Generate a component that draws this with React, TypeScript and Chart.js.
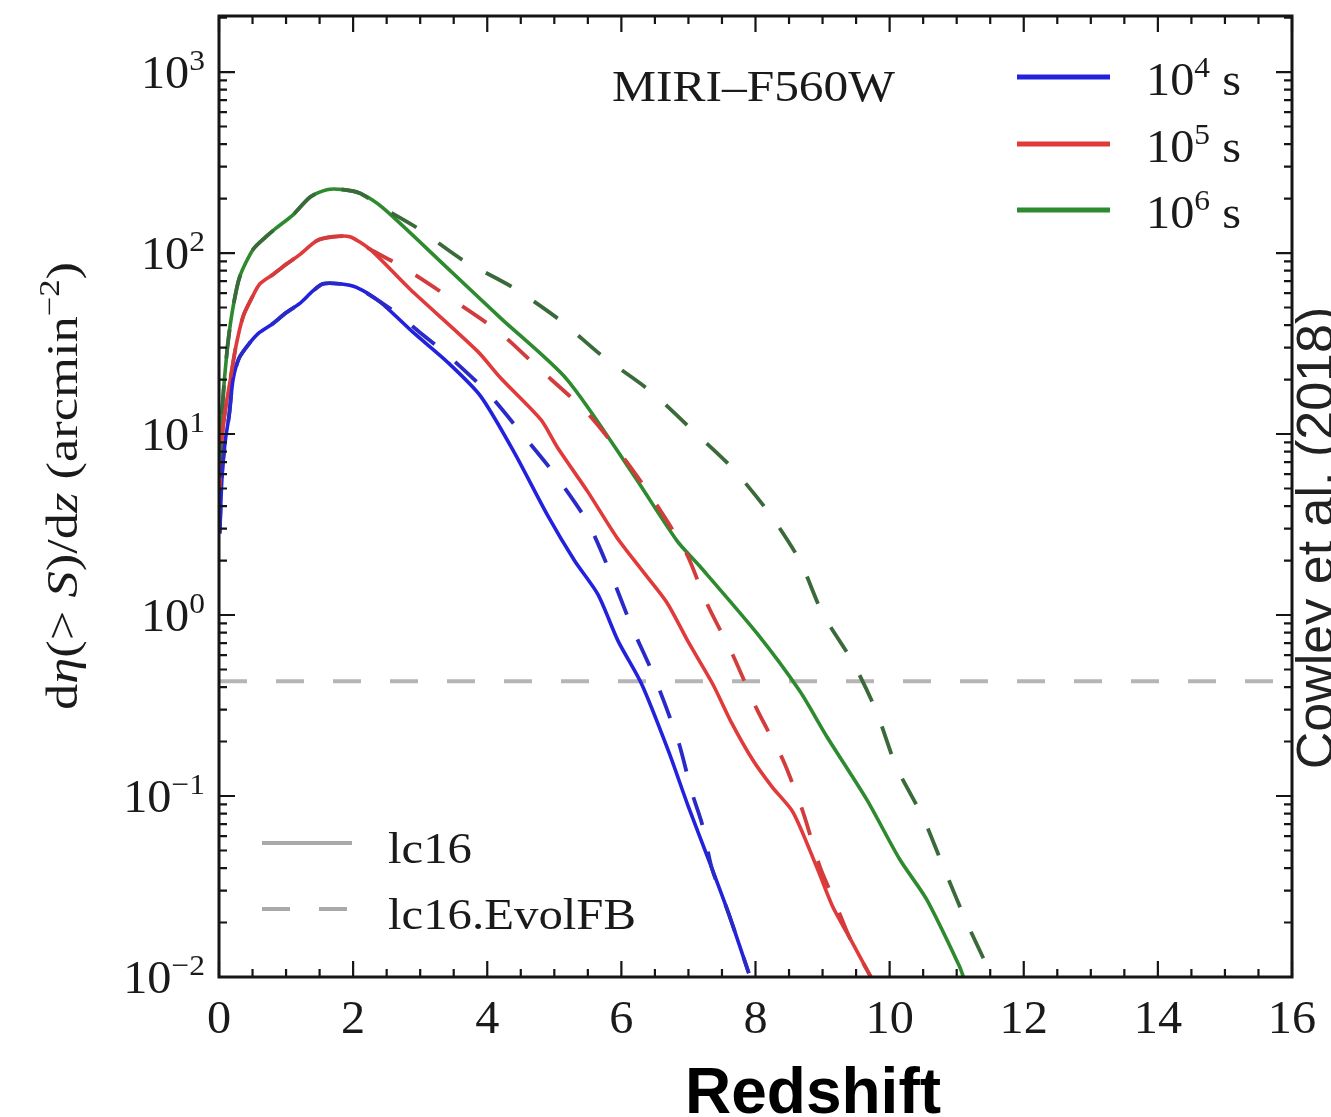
import React, { useEffect, useRef } from 'react';
import { Chart, registerables } from 'chart.js';

Chart.register(...registerables);

const W = 1331;
const H = 1117;
const SERIF = '"Liberation Serif", "DejaVu Serif", serif';
const SANS = '"Liberation Sans", Arial, sans-serif';

// ---- data (redshift z, dη(>S)/dz in arcmin^-2) ----
const zBlueSolid = [0.01, 0.05, 0.1, 0.15, 0.21, 0.3, 0.45, 0.6, 0.8, 1.0, 1.2, 1.4, 1.55, 1.8, 2.05, 2.4, 2.9, 3.4, 3.9, 4.4, 4.9, 5.3, 5.65, 5.95, 6.3, 6.7, 7.0, 7.35, 7.6, 7.9];
const vBlueSolid = [2.82, 6.31, 9.55, 12.6, 20.0, 26.3, 31.6, 36.3, 40.7, 46.8, 52.5, 61.7, 67.6, 67.6, 64.6, 53.7, 36.3, 25.1, 16.2, 7.94, 3.55, 2.0, 1.3, 0.72, 0.417, 0.178, 0.0871, 0.0398, 0.0224, 0.0105];

const zBlueDashed = [0.01, 0.05, 0.1, 0.15, 0.21, 0.3, 0.45, 0.6, 0.8, 1.0, 1.2, 1.4, 1.55, 1.8, 2.05, 2.6, 3.0, 3.4, 4.0, 4.5, 5.0, 5.5, 5.85, 6.15, 6.5, 6.85, 7.05, 7.2, 7.35, 7.6, 7.9];
const vBlueDashed = [2.82, 6.31, 9.55, 12.6, 20.0, 26.3, 31.6, 36.3, 40.7, 46.8, 52.5, 61.7, 67.6, 67.6, 64.6, 47.9, 36.3, 27.5, 17.0, 10.2, 6.03, 3.24, 1.66, 0.871, 0.447, 0.2, 0.105, 0.0708, 0.0398, 0.0224, 0.0105];

const zRedSolid = [0.01, 0.05, 0.1, 0.16, 0.25, 0.36, 0.5, 0.61, 0.8, 1.01, 1.2, 1.46, 1.7, 1.95, 2.25, 2.85, 3.85, 4.2, 4.8, 5.04, 5.5, 5.93, 6.3, 6.68, 7.0, 7.36, 7.65, 7.96, 8.25, 8.56, 8.91, 9.15, 9.4, 9.72];
const vRedSolid = [5.01, 10, 14.1, 19.1, 30.2, 44.7, 57.5, 67.6, 75.9, 87.1, 97.7, 117, 123, 123, 105, 63.1, 28.8, 20.4, 12.0, 8.51, 4.79, 2.69, 1.78, 1.17, 0.708, 0.417, 0.251, 0.158, 0.112, 0.0813, 0.0407, 0.0245, 0.0166, 0.01];

const zRedDashed = [0.01, 0.05, 0.1, 0.16, 0.25, 0.36, 0.5, 0.61, 0.8, 1.01, 1.2, 1.46, 1.7, 1.95, 2.25, 2.75, 3.49, 4.19, 4.75, 5.48, 6.03, 6.47, 6.97, 7.27, 7.66, 8.02, 8.41, 8.71, 8.96, 9.2, 9.4, 9.72];
const vRedDashed = [5.01, 10, 14.1, 19.1, 30.2, 44.7, 57.5, 67.6, 75.9, 87.1, 97.7, 117, 123, 123, 105, 83.2, 55.0, 36.3, 23.4, 13.2, 7.41, 4.37, 2.19, 1.17, 0.603, 0.302, 0.158, 0.0813, 0.0407, 0.0251, 0.0166, 0.01];

const zGreenSolid = [0.01, 0.05, 0.12, 0.2, 0.31, 0.51, 0.7, 0.86, 1.1, 1.36, 1.61, 1.85, 2.1, 2.44, 3.34, 4.2, 5.19, 6.17, 6.83, 7.17, 8.02, 8.66, 9.06, 9.66, 10.15, 10.55, 11.04, 11.1];
const vGreenSolid = [6.31, 14.1, 28.8, 47.9, 74.1, 105, 123, 138, 162, 204, 224, 224, 214, 178, 87.1, 43.7, 20.0, 6.03, 2.57, 1.86, 0.794, 0.38, 0.214, 0.0955, 0.0447, 0.0269, 0.0115, 0.01];

const zGreenDashed = [0.01, 0.05, 0.12, 0.2, 0.31, 0.51, 0.7, 0.86, 1.1, 1.36, 1.61, 1.85, 2.1, 2.44, 2.95, 3.64, 4.38, 5.08, 5.72, 6.42, 7.06, 7.66, 8.21, 8.66, 9.0, 9.45, 9.8, 10.1, 10.5, 10.8, 11.15, 11.53];
const vGreenDashed = [6.31, 14.1, 28.8, 47.9, 74.1, 105, 123, 138, 162, 204, 224, 224, 214, 178, 138, 91.2, 64.6, 42.7, 26.9, 17.4, 10.5, 6.46, 3.63, 2.0, 1.02, 0.55, 0.295, 0.145, 0.0759, 0.0407, 0.02, 0.01];

const zLimit = [0, 16];
const vLimit = [0.43, 0.43];

const xTickLabels = [0, 2, 4, 6, 8, 10, 12, 14, 16];
const yTickExps = [-2, -1, 0, 1, 2, 3];
const exposureExps = ['4', '5', '6'];
const exposureColors = ['#2222dd', '#e03a3a', '#2e8a2e'];
const dashedColors = ['#2a2ac8', '#d33c3c', '#3a6a3a'];
const styleLabels = ['lc16', 'lc16.EvolFB'];
const filterLabel = 'MIRI–F560W';
const xTitle = 'Redshift';
const sideNote = 'Cowley et al. (2018)';

const X_MIN = 0;
const X_MAX = 16;
const Y_MIN = 0.01;
const Y_MAX = 2040;

type Part = { t: string; it?: boolean; sup?: boolean };

function fontOf(p: Part, size: number) {
  const s = p.sup ? Math.round(size * 0.66) : size;
  return `${p.it ? 'italic ' : ''}${s}px ${SERIF}`;
}

function measureRich(ctx: CanvasRenderingContext2D, parts: Part[], size: number) {
  let total = 0;
  for (const p of parts) {
    ctx.font = fontOf(p, size);
    total += ctx.measureText(p.t).width;
  }
  return total;
}

function drawRich(
  ctx: CanvasRenderingContext2D,
  parts: Part[],
  x: number,
  y: number,
  size: number,
  align: 'left' | 'center' | 'right',
  sx = 1,
  rot = 0,
  color = '#1a1a1a'
) {
  const widths = parts.map((p) => {
    ctx.font = fontOf(p, size);
    return ctx.measureText(p.t).width * sx;
  });
  const total = widths.reduce((a, b) => a + b, 0);
  ctx.save();
  ctx.translate(x, y);
  if (rot) ctx.rotate(rot);
  let cx = align === 'left' ? 0 : align === 'right' ? -total : -total / 2;
  ctx.fillStyle = color;
  ctx.textBaseline = 'alphabetic';
  ctx.textAlign = 'left';
  parts.forEach((p, i) => {
    ctx.save();
    ctx.font = fontOf(p, size);
    ctx.translate(cx, p.sup ? -size * 0.4 : 0);
    ctx.scale(sx, 1);
    ctx.fillText(p.t, 0, 0);
    ctx.restore();
    cx += widths[i];
  });
  ctx.restore();
  return total;
}

const decorPlugin = {
  id: 'decor',
  afterDraw(chart: any) {
    const ctx: CanvasRenderingContext2D = chart.ctx;
    const { left, right, top, bottom } = chart.chartArea;
    const xs = chart.scales.x;
    const ys = chart.scales.y;
    ctx.save();

    // ticks (inward, all four sides)
    ctx.strokeStyle = '#151515';
    ctx.lineWidth = 2.2;
    for (let z = X_MIN; z <= X_MAX + 1e-9; z += 0.5) {
      const px = xs.getPixelForValue(z);
      const major = Math.abs(z / 2 - Math.round(z / 2)) < 1e-6;
      const len = major ? 16 : 8;
      ctx.beginPath();
      ctx.moveTo(px, bottom);
      ctx.lineTo(px, bottom - len);
      ctx.moveTo(px, top);
      ctx.lineTo(px, top + len);
      ctx.stroke();
    }
    for (let e = -2; e <= 3; e++) {
      for (let k = 1; k <= 9; k++) {
        const v = k * Math.pow(10, e);
        if (v < Y_MIN || v > Y_MAX) continue;
        const py = ys.getPixelForValue(v);
        const len = k === 1 ? 16 : 8;
        ctx.beginPath();
        ctx.moveTo(left, py);
        ctx.lineTo(left + len, py);
        ctx.moveTo(right, py);
        ctx.lineTo(right - len, py);
        ctx.stroke();
      }
    }
    // frame
    ctx.lineWidth = 3;
    ctx.strokeRect(left, top, right - left, bottom - top);

    // x tick labels
    for (const t of xTickLabels) {
      drawRich(ctx, [{ t: String(t) }], xs.getPixelForValue(t), bottom + 56, 46, 'center', 1.05);
    }
    // y tick labels
    for (const e of yTickExps) {
      const py = ys.getPixelForValue(Math.pow(10, e));
      const exp = e < 0 ? '−' + Math.abs(e) : String(e);
      drawRich(ctx, [{ t: '10' }, { t: exp, sup: true }], left - 14, py + 16, 46, 'right', 1.05);
    }

    // y axis title
    const yParts: Part[] = [
      { t: 'd' }, { t: 'η', it: true }, { t: '(> ' }, { t: 'S', it: true }, { t: ')/d' },
      { t: 'z', it: true }, { t: ' (arcmin' }, { t: '−2', sup: true }, { t: ')' },
    ];
    const yW = measureRich(ctx, yParts, 44);
    drawRich(ctx, yParts, 77, 486, 44, 'center', 448 / yW, -Math.PI / 2);

    // filter label
    const fParts: Part[] = [{ t: filterLabel }];
    const fW = measureRich(ctx, fParts, 44);
    drawRich(ctx, fParts, 612, 101, 44, 'left', 283 / fW);

    // exposure legend (top right)
    const rowY = [77, 144, 210];
    exposureExps.forEach((ex, i) => {
      ctx.strokeStyle = exposureColors[i];
      ctx.lineWidth = 5;
      ctx.setLineDash([]);
      ctx.beginPath();
      ctx.moveTo(1017, rowY[i]);
      ctx.lineTo(1110, rowY[i]);
      ctx.stroke();
      drawRich(ctx, [{ t: '10' }, { t: ex, sup: true }, { t: ' s' }], 1146, rowY[i] + 18, 46, 'left', 1.05);
    });

    // line-style legend (bottom left)
    const sY = [843, 909];
    const sW = measureRich(ctx, [{ t: styleLabels[1] }], 44);
    const ssx = 248 / sW;
    styleLabels.forEach((lab, i) => {
      ctx.strokeStyle = '#a9a9a9';
      ctx.lineWidth = 4;
      ctx.setLineDash(i === 0 ? [] : [28, 29]);
      ctx.beginPath();
      ctx.moveTo(262, sY[i]);
      ctx.lineTo(352, sY[i]);
      ctx.stroke();
      ctx.setLineDash([]);
      drawRich(ctx, [{ t: lab }], 388, sY[i] + 20, 44, 'left', ssx);
    });

    // x axis title
    ctx.fillStyle = '#000';
    ctx.font = `bold 64px ${SANS}`;
    ctx.textAlign = 'center';
    ctx.textBaseline = 'alphabetic';
    ctx.fillText(xTitle, 813, 1113);

    // side note (rotated, clipped at right edge)
    ctx.save();
    ctx.translate(1333, 538);
    ctx.rotate(-Math.PI / 2);
    ctx.fillStyle = '#222';
    ctx.font = `52px ${SANS}`;
    ctx.textAlign = 'center';
    ctx.fillText(sideNote, 0, 0);
    ctx.restore();

    ctx.restore();
  },
};

function pts(zs: number[], vs: number[]) {
  return zs.map((z, i) => ({ x: z, y: vs[i] }));
}

export default function App() {
  const ref = useRef<HTMLCanvasElement>(null);

  useEffect(() => {
    const canvas = ref.current;
    if (!canvas) return;
    const DASH = [29, 27];
    const solid = (data: any, color: string) => ({
      data, borderColor: color, borderWidth: 3.6, pointRadius: 0, fill: false, tension: 0.25, order: 1,
    });
    const dashed = (data: any, color: string) => ({
      data, borderColor: color, borderWidth: 3.8, borderDash: DASH, pointRadius: 0, fill: false, tension: 0.25, order: 0,
    });
    const chart = new Chart(canvas, {
      type: 'line',
      data: {
        datasets: [
          { data: pts(zLimit, vLimit), borderColor: '#b5b5b5', borderWidth: 4, borderDash: [28, 29], pointRadius: 0, fill: false, order: 3 } as any,
          solid(pts(zBlueSolid, vBlueSolid), exposureColors[0]),
          solid(pts(zRedSolid, vRedSolid), exposureColors[1]),
          solid(pts(zGreenSolid, vGreenSolid), exposureColors[2]),
          dashed(pts(zBlueDashed, vBlueDashed), dashedColors[0]),
          dashed(pts(zRedDashed, vRedDashed), dashedColors[1]),
          dashed(pts(zGreenDashed, vGreenDashed), dashedColors[2]),
        ],
      },
      options: {
        animation: false,
        responsive: false,
        devicePixelRatio: 1,
        layout: { padding: { left: 219, top: 16, right: W - 1292, bottom: H - 977 } },
        plugins: { legend: { display: false }, tooltip: { enabled: false } },
        scales: {
          x: { type: 'linear', min: X_MIN, max: X_MAX, display: false },
          y: { type: 'logarithmic', min: Y_MIN, max: Y_MAX, display: false },
        },
      } as any,
      plugins: [decorPlugin],
    });
    return () => chart.destroy();
  }, []);

  return (
    <div style={{ position: 'absolute', left: 0, top: 0, width: W, height: H, background: '#fff', overflow: 'hidden' }}>
      <canvas ref={ref} width={W} height={H} style={{ width: W, height: H, display: 'block' }} />
    </div>
  );
}
